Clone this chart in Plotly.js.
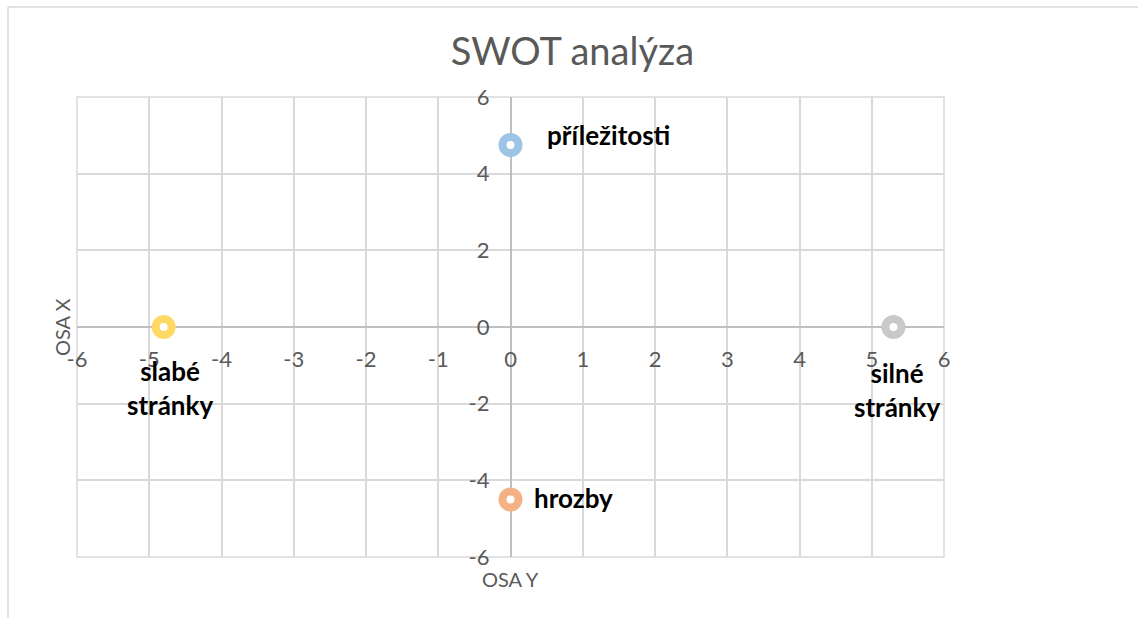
<!DOCTYPE html>
<html>
<head>
<meta charset="utf-8">
<script src="https://cdn.plot.ly/plotly-3.0.1.min.js"></script>
<style>html,body{margin:0;padding:0;background:#fff;}#chart{width:1138px;height:618px;}</style>
</head>
<body>
<div id="chart"></div>
<script>
// Data
const labels = ["příležitosti", "slabé stránky", "silné stránky", "hrozby"];
const xValues = [0, -4.8, 5.3, 0];
const yValues = [4.75, 0, 0, -4.5];
const xTickVals = [-6, -5, -4, -3, -2, -1, 0, 1, 2, 3, 4, 5, 6];
const xTickText = ["-6", "-5", "-4", "-3", "-2", "-1", "0", "1", "2", "3", "4", "5", "6"];
const yTickVals = [-6, -4, -2, 0, 2, 4, 6];
const yTickText = ["-6", "-4", "-2", "0", "2", "4", "6"];
const chartTitle = "SWOT analýza";
const xAxisTitle = "OSA Y";
const yAxisTitle = "OSA X";

// Styles
const colors = ["#9dc3e6", "#ffd966", "#c9c9c9", "#f4b183"];
const labelStyle = [
  {xanchor: "left", yanchor: "middle", xshift: 34, yshift: 10, text: "příležitosti"},
  {xanchor: "center", yanchor: "top", xshift: 6, yshift: -26, text: "slabé<br>stránky"},
  {xanchor: "center", yanchor: "top", xshift: 4, yshift: -28, text: "silné<br>stránky"},
  {xanchor: "left", yanchor: "middle", xshift: 21, yshift: 2, text: "hrozby"}
];
const FONT = "Lato, 'Open Sans', sans-serif";
const GRAY = "#595959";

const traces = labels.map((name, i) => ({
  type: "scatter", mode: "markers", name: name,
  x: [xValues[i]], y: [yValues[i]],
  marker: {size: 16, color: "#ffffff", line: {color: colors[i], width: 8}},
  hoverinfo: "name", cliponaxis: false
}));

const annotations = labels.map((name, i) => ({
  x: xValues[i], y: yValues[i], xref: "x", yref: "y",
  text: "<b>" + labelStyle[i].text + "</b>", showarrow: false,
  xanchor: labelStyle[i].xanchor, yanchor: labelStyle[i].yanchor,
  xshift: labelStyle[i].xshift, yshift: labelStyle[i].yshift,
  font: {family: FONT, size: 26, color: "#000000"}
}));
annotations.push({
  xref: "paper", yref: "paper", x: 0.5, y: -0.048, xanchor: "center", yanchor: "middle",
  text: xAxisTitle, showarrow: false, font: {family: FONT, size: 20, color: GRAY}
});
annotations.push({
  xref: "paper", yref: "paper", x: -0.0173, y: 0.5, xanchor: "center", yanchor: "middle",
  textangle: -90, text: yAxisTitle, showarrow: false, font: {family: FONT, size: 20, color: GRAY}
});

const tickFont = {family: FONT, size: 22, color: GRAY};
const layout = {
  width: 1138, height: 618,
  margin: {l: 77, r: 194, t: 97, b: 61},
  paper_bgcolor: "#ffffff", plot_bgcolor: "#ffffff",
  showlegend: false,
  font: {family: FONT, color: GRAY},
  title: {text: chartTitle, font: {family: FONT, size: 38, color: GRAY},
          x: 0.503, xanchor: "center", y: 0.917, yanchor: "middle", yref: "container"},
  xaxis: {
    range: [-6, 6], tickmode: "array", tickvals: xTickVals, ticktext: xTickText,
    anchor: "free", position: 0.5,
    showgrid: true, gridcolor: "#d9d9d9", gridwidth: 1.5,
    zeroline: true, zerolinecolor: "#bfbfbf", zerolinewidth: 1.5,
    showline: false, ticks: "", ticklabelstandoff: 17,
    tickfont: tickFont, fixedrange: true
  },
  yaxis: {
    range: [-6, 6], tickmode: "array", tickvals: yTickVals, ticktext: yTickText,
    anchor: "free", position: 0.5,
    showgrid: true, gridcolor: "#d9d9d9", gridwidth: 1.5,
    zeroline: true, zerolinecolor: "#bfbfbf", zerolinewidth: 1.5,
    showline: false, ticks: "", ticklabelstandoff: 21,
    tickfont: tickFont, fixedrange: true
  },
  shapes: [
    {type: "rect", xref: "paper", yref: "paper", x0: 0, x1: 1, y0: 0, y1: 1,
     line: {color: "#d9d9d9", width: 1.5}, layer: "below"},
    {type: "line", xref: "paper", yref: "paper", x0: -0.0796, x1: 1.3, y0: 1.1957, y1: 1.1957,
     line: {color: "#d9d9d9", width: 1.5}},
    {type: "line", xref: "paper", yref: "paper", x0: -0.0796, x1: -0.0796, y0: 1.1957, y1: -0.3,
     line: {color: "#d9d9d9", width: 1.5}}
  ],
  annotations: annotations
};

Plotly.newPlot("chart", traces, layout, {displayModeBar: false});
</script>
</body>
</html>
